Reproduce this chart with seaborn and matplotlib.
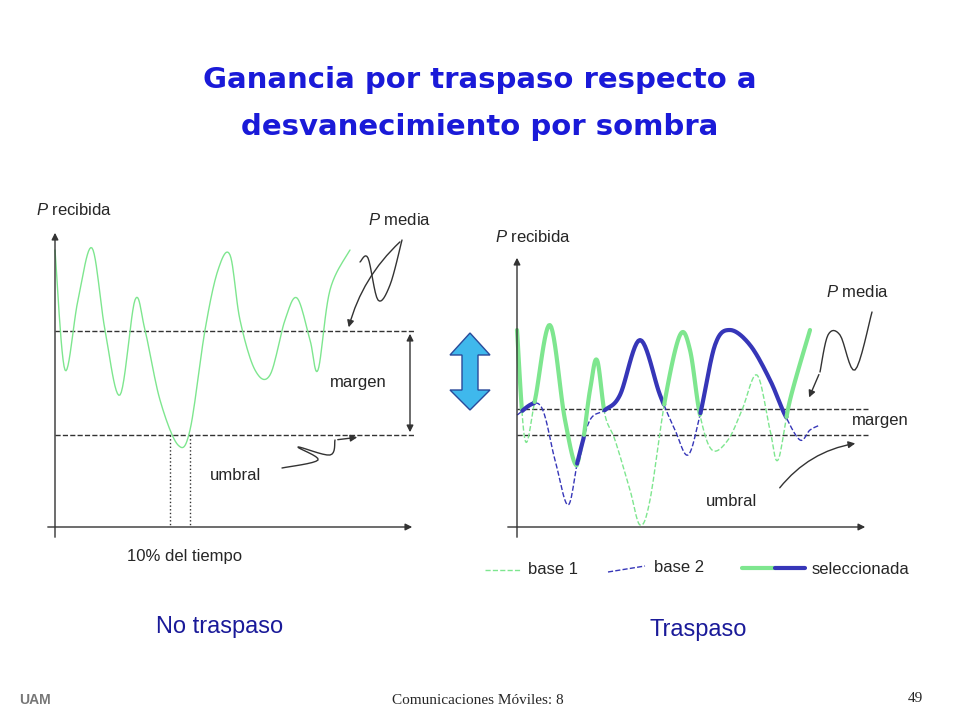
import numpy as np
import seaborn as sns
import matplotlib.pyplot as plt
from matplotlib.patches import Polygon

sns.set_theme(style="white")
plt.rcParams['font.family'] = ['Liberation Sans', 'DejaVu Sans']
plt.rcParams['mathtext.fontset'] = 'custom'
plt.rcParams['mathtext.it'] = 'Liberation Sans:italic'
plt.rcParams['mathtext.rm'] = 'Liberation Sans'

# curves (pixel space, y downwards)
left_x = [55, 65, 78, 92, 105, 120, 135, 145, 160, 178, 190, 205, 218, 230, 240, 255, 270, 285, 297, 310, 318, 330, 350]
left_y = [250, 370, 300, 248, 330, 395, 300, 330, 400, 445, 430, 330, 270, 255, 320, 370, 375, 320, 298, 340, 370, 290, 250]

base1_x = [517, 525, 535, 550, 565, 578, 590, 597, 605, 615, 630, 640, 650, 665, 680, 690, 700, 712, 728, 742, 757, 770, 778, 790, 810]
base1_y = [330, 440, 400, 325, 420, 465, 390, 360, 415, 440, 490, 525, 500, 400, 335, 350, 415, 450, 440, 410, 375, 430, 460, 400, 330]
base2_x = [517, 540, 555, 568, 578, 590, 605, 620, 640, 660, 675, 688, 700, 715, 730, 750, 770, 785, 800, 810, 820]
base2_y = [415, 405, 460, 505, 460, 420, 410, 395, 340, 395, 430, 455, 415, 345, 330, 345, 380, 415, 440, 430, 425]

GREEN = '#7ee68f'
BLUE = '#3636b8'
TITLE_BLUE = '#1a1ad8'


def smooth(xs, ys, n=12):
    # Catmull-Rom through the read points, only for drawing
    p = np.column_stack([xs, ys]).astype(float)
    p = np.vstack([p[0], p, p[-1]])
    out = []
    for i in range(1, len(p) - 2):
        t = np.linspace(0, 1, n, endpoint=False)[:, None]
        a, b, c, d = p[i - 1], p[i], p[i + 1], p[i + 2]
        out.append(0.5 * ((2 * b) + (-a + c) * t + (2 * a - 5 * b + 4 * c - d) * t ** 2
                          + (-a + 3 * b - 3 * c + d) * t ** 3))
    out.append(p[-2][None])
    out = np.vstack(out)
    return out[:, 0], out[:, 1]


fig = plt.figure(figsize=(9.6, 7.2), dpi=100)
ax = fig.add_axes([0, 0, 1, 1])
ax.set_xlim(0, 960)
ax.set_ylim(720, 0)
ax.axis('off')

arr = dict(arrowstyle='-|>', color='#333333', lw=1, mutation_scale=10)

# title
ax.text(480, 80, 'Ganancia por traspaso respecto a', ha='center', va='center', fontsize=21,
        fontweight='bold', color=TITLE_BLUE, family='DejaVu Sans')
ax.text(480, 127, 'desvanecimiento por sombra', ha='center', va='center', fontsize=21,
        fontweight='bold', color=TITLE_BLUE, family='DejaVu Sans')

# ---- left panel
ax.annotate('', xy=(55, 230), xytext=(55, 540), arrowprops=arr)
ax.annotate('', xy=(415, 527), xytext=(45, 527), arrowprops=arr)
ax.plot([55, 415], [331, 331], ls='--', color='#333333', lw=1)
ax.plot([55, 415], [435, 435], ls='--', color='#333333', lw=1)
sx, sy = smooth(left_x, left_y)
sns.lineplot(x=sx, y=sy, ax=ax, color=GREEN, lw=1, sort=False, estimator=None)
ax.plot([170, 170], [435, 527], ls=':', color='#333333', lw=1)
ax.plot([190, 190], [435, 527], ls=':', color='#333333', lw=1)
ax.annotate('', xy=(410, 331), xytext=(410, 435),
            arrowprops=dict(arrowstyle='<|-|>', color='#333333', lw=1, mutation_scale=10))
ax.text(36, 210, r'$\it{P}$ recibida', fontsize=12, va='center')
ax.text(368, 220, r'$\it{P}$ media', fontsize=12, va='center')
ax.text(330, 382, 'margen', fontsize=12, va='center')
ax.text(210, 476, 'umbral', fontsize=12, va='center')
ax.text(185, 557, '10% del tiempo', fontsize=12, va='center', ha='center')
ax.text(220, 627, 'No traspaso', fontsize=17, va='center', ha='center', color='#1a1a99')
# squiggly callouts
qx, qy = smooth([360, 368, 378, 390, 402], [262, 258, 300, 285, 240], 8)
ax.plot(qx, qy, color='#333333', lw=1)
ax.annotate('', xy=(348, 330), xytext=(402, 240), arrowprops=dict(arr, connectionstyle='arc3,rad=0.15'))
qx, qy = smooth([282, 318, 298, 330, 335], [468, 460, 447, 455, 440], 8)
ax.plot(qx, qy, color='#333333', lw=1)
ax.annotate('', xy=(360, 437), xytext=(335, 440), arrowprops=arr)

# double arrow between panels
ax.add_patch(Polygon([(470, 333), (490, 355), (478, 355), (478, 390), (490, 390), (470, 410),
                      (450, 390), (462, 390), (462, 355), (450, 355)],
                     closed=True, facecolor='#3fb8ec', edgecolor='#2a4a9a', lw=1))

# ---- right panel
ax.annotate('', xy=(517, 255), xytext=(517, 540), arrowprops=arr)
ax.annotate('', xy=(868, 527), xytext=(505, 527), arrowprops=arr)
ax.plot([517, 868], [409, 409], ls='--', color='#333333', lw=1)
ax.plot([517, 868], [435, 435], ls='--', color='#333333', lw=1)
b1x, b1y = smooth(base1_x, base1_y)
b2x, b2y = smooth(base2_x, base2_y)
sns.lineplot(x=b1x, y=b1y, ax=ax, color=GREEN, lw=1, ls='--', sort=False, estimator=None)
sns.lineplot(x=b2x, y=b2y, ax=ax, color=BLUE, lw=1, ls='--', sort=False, estimator=None)
# selected: whichever base is stronger (higher on screen)
gx = np.linspace(517, 810, 600)
g1 = np.interp(gx, b1x, b1y)
g2 = np.interp(gx, b2x, b2y)
use1 = g1 <= g2
sel = np.where(use1, g1, g2)
start = 0
for i in range(1, len(gx) + 1):
    if i == len(gx) or use1[i] != use1[start]:
        ax.plot(gx[start:i + 1], sel[start:i + 1], color=GREEN if use1[start] else BLUE,
                lw=3, solid_capstyle='round')
        start = i
ax.text(495, 237, r'$\it{P}$ recibida', fontsize=12, va='center')
ax.text(826, 292, r'$\it{P}$ media', fontsize=12, va='center')
ax.text(852, 421, 'margen', fontsize=12, va='center')
ax.text(706, 501, 'umbral', fontsize=12, va='center')
ax.text(698, 630, 'Traspaso', fontsize=17, va='center', ha='center', color='#1a1a99')
qx, qy = smooth([820, 828, 840, 855, 872], [372, 335, 335, 370, 312], 8)
ax.plot(qx, qy, color='#333333', lw=1)
ax.annotate('', xy=(808, 400), xytext=(820, 372), arrowprops=arr)
ax.annotate('', xy=(858, 443), xytext=(778, 490), arrowprops=dict(arr, connectionstyle='arc3,rad=-0.2'))

# legend
ax.plot([485, 520], [570, 570], ls='--', color=GREEN, lw=1)
ax.text(528, 570, 'base 1', fontsize=12, va='center')
ax.plot([608, 645], [572, 566], ls='--', color=BLUE, lw=1)
ax.text(654, 567, 'base 2', fontsize=12, va='center')
ax.plot([742, 775], [568, 568], color=GREEN, lw=3)
ax.plot([775, 805], [568, 568], color=BLUE, lw=3)
ax.text(812, 570, 'seleccionada', fontsize=12, va='center')

# footer
ax.text(35, 700, 'UAM', fontsize=10, va='center', ha='center', color='#777777', fontweight='bold')
ax.text(478, 700, 'Comunicaciones Móviles: 8', fontsize=11, va='center', ha='center',
        family='Liberation Serif')
ax.text(915, 698, '49', fontsize=11, va='center', ha='center', family='Liberation Serif')

fig.savefig('out.png', dpi=100)
